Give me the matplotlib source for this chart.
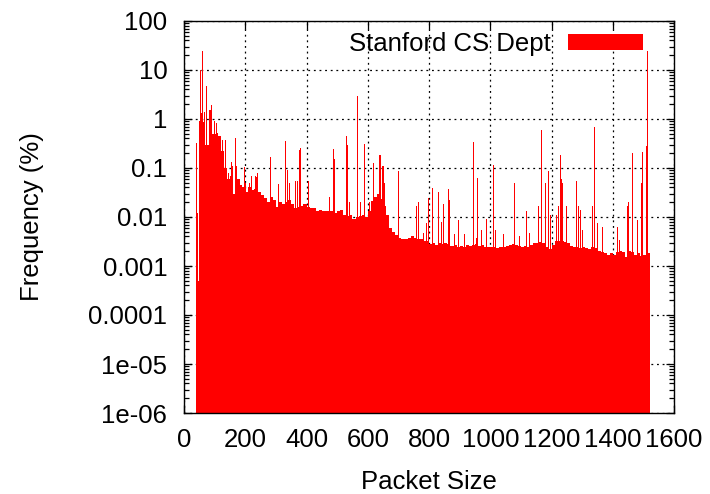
import numpy as np
import matplotlib
matplotlib.use("Agg")
import matplotlib.pyplot as plt
from matplotlib.ticker import FixedLocator, LogLocator, NullFormatter
from matplotlib.patches import Patch

plt.rcParams['font.family'] = ['Liberation Sans', 'DejaVu Sans']

# Packet-size histogram: background level in 10-byte bins (left edge, % of packets)
bin_left = np.arange(40, 1520, 10)
bin_freq = [
    0.0005, 0.9, 0.8, 0.29, 0.4, 0.5, 0.5, 0.45, 0.22, 0.1,          # 40-130
    0.06, 0.07, 0.03, 0.06, 0.045, 0.04, 0.033, 0.04, 0.035, 0.038,   # 140-230
    0.032, 0.028, 0.025, 0.02, 0.026, 0.022, 0.016, 0.02, 0.018, 0.02,   # 240-330
    0.022, 0.018, 0.015, 0.016, 0.017, 0.018, 0.016, 0.015, 0.015, 0.013,  # 340-430
    0.014, 0.013, 0.013, 0.013, 0.013, 0.012, 0.013, 0.014, 0.011, 0.0105,  # 440-530
    0.011, 0.009, 0.01, 0.0105, 0.011, 0.01, 0.013, 0.021, 0.026, 0.029,   # 540-630
    0.023, 0.017, 0.011, 0.006, 0.005, 0.0042, 0.0038, 0.0035, 0.0036, 0.0038,  # 640-730
    0.004, 0.0037, 0.0036, 0.0035, 0.0032, 0.0032, 0.0028, 0.003, 0.0027, 0.0029,  # 740-830
    0.0028, 0.0029, 0.0028, 0.0026, 0.0027, 0.0025, 0.0026, 0.0025, 0.0027, 0.0026,  # 840-930
    0.0027, 0.0028, 0.0026, 0.0027, 0.0025, 0.0024, 0.0024, 0.0025, 0.0023, 0.0024,  # 940-1030
    0.0024, 0.0026, 0.0027, 0.0028, 0.0027, 0.0026, 0.0025, 0.0026, 0.0025, 0.0027,  # 1040-1130
    0.0029, 0.003, 0.0031, 0.0029, 0.0024, 0.0022, 0.0027, 0.0032, 0.0033, 0.0032,  # 1140-1230
    0.0031, 0.0029, 0.0026, 0.0024, 0.0025, 0.0023, 0.0024, 0.0023, 0.0022, 0.0024,  # 1240-1330
    0.0023, 0.002, 0.0019, 0.0018, 0.0017, 0.0018, 0.0017, 0.0019, 0.002, 0.0019,  # 1340-1430
    0.0015, 0.002, 0.0019, 0.0017, 0.0018, 0.0016, 0.0017, 0.0018,                  # 1440-1510
]

# Individual packet sizes that stand out above the background
peak_size = [
    41, 44, 55, 57, 61, 65, 68, 75, 82, 86, 90, 101, 106, 111, 115, 118,
    127, 136, 145, 154, 159, 168, 172, 182, 197, 202, 213, 219, 224, 233,
    236, 241, 284, 307, 333, 338, 344, 365, 369, 376, 380, 405, 407, 474,
    487, 490, 531, 534, 542, 566, 575, 588, 591, 607, 618, 640, 643, 649,
    652, 655, 700, 759, 765, 781, 792, 799, 812, 832, 841, 846, 864, 868,
    884, 895, 917, 944, 955, 959, 971, 988, 1009, 1018, 1042, 1078, 1096,
    1118, 1129, 1159, 1167, 1181, 1191, 1196, 1216, 1224, 1230, 1233, 1236,
    1248, 1281, 1289, 1295, 1302, 1335, 1340, 1351, 1368, 1414, 1422, 1448,
    1451, 1463, 1482, 1495, 1498, 1509, 1514,
]
peak_freq = [
    0.32, 0.012, 10, 1.3, 24.6, 0.85, 1.4, 4.7, 1.5, 1.5, 1.9, 0.93, 0.83, 0.52, 0.43, 0.32,
    0.37, 0.37, 0.08, 0.13, 0.11, 0.4, 0.11, 0.06, 0.105, 0.05, 0.05, 0.07, 0.035, 0.068,
    0.067, 0.08, 0.17, 0.047, 0.35, 0.09, 0.05, 0.055, 0.054, 0.23, 0.26, 0.055, 0.052, 0.026,
    0.25, 0.15, 0.45, 0.3, 0.02, 2.95, 0.02, 0.3, 0.31, 0.02, 0.127, 0.18, 0.18, 0.11,
    0.11, 0.05, 0.085, 0.017, 0.02, 0.0047, 0.0075, 0.025, 0.039, 0.032, 0.008, 0.018, 0.037, 0.022,
    0.0044, 0.0087, 0.0044, 0.34, 0.0037, 0.062, 0.0054, 0.009, 0.115, 0.0055, 0.0044, 0.05, 0.004,
    0.013, 0.0047, 0.017, 0.6, 0.05, 0.087, 0.011, 0.011, 0.017, 0.18, 0.06, 0.05,
    0.017, 0.055, 0.017, 0.014, 0.0054, 0.017, 0.7, 0.0075, 0.0062, 0.0062, 0.0034, 0.017,
    0.02, 0.2, 0.0087, 0.05, 0.21, 0.28, 24.5,
]

y_ticks = [1e-6, 1e-5, 1e-4, 1e-3, 1e-2, 1e-1, 1, 10, 100]
y_labels = ["1e-06", "1e-05", "0.0001", "0.001", "0.01", "0.1", "1", "10", "100"]
x_ticks = [0, 200, 400, 600, 800, 1000, 1200, 1400, 1600]

RED = "#ff0000"
FLOOR = 1e-6
FS = 18.5

fig = plt.figure(figsize=(7.1, 4.94), dpi=100)
ax = fig.add_axes([184 / 710, 1 - 413 / 494, 490 / 710, 392 / 494])

ax.set_yscale("log")
ax.set_xlim(0, 1600)
ax.set_ylim(FLOOR, 100)

bf = np.asarray(bin_freq)
ax.bar(bin_left, bf - FLOOR, bottom=FLOOR, width=10, align="edge",
       color=RED, linewidth=0)
pf = np.asarray(peak_freq)
ax.bar(peak_size, pf - FLOOR, bottom=FLOOR, width=3.3, align="center",
       color=RED, linewidth=0)

ax.set_axisbelow(True)
ax.grid(True, which="major", color="black", linestyle=(0, (1.5, 3)), linewidth=0.9)

ax.set_xticks(x_ticks)
ax.set_xticklabels([str(v) for v in x_ticks])
ax.yaxis.set_major_locator(FixedLocator(y_ticks))
ax.set_yticklabels(y_labels)
ax.yaxis.set_minor_locator(LogLocator(base=10, subs=range(2, 10), numticks=100))
ax.yaxis.set_minor_formatter(NullFormatter())

ax.tick_params(which="both", direction="in", top=True, right=True, labelsize=FS,
               width=0.9, colors="black")
ax.tick_params(which="major", length=6)
ax.tick_params(which="minor", length=3.5)
ax.tick_params(axis="y", pad=12)
ax.tick_params(axis="x", pad=11)
for s in ax.spines.values():
    s.set_linewidth(1.0)

ax.set_xlabel("Packet Size", fontsize=FS, labelpad=13)
ax.set_ylabel("Frequency (%)", fontsize=FS, labelpad=32)

handle = Patch(facecolor=RED, edgecolor="none")
leg = ax.legend([handle], ["Stanford CS Dept"], loc="upper right",
                bbox_to_anchor=(643 / 710, 1 - 32 / 494), bbox_transform=fig.transFigure,
                frameon=False, markerfirst=False, fontsize=FS,
                handlelength=2.9, handleheight=0.6, handletextpad=0.7,
                borderpad=0, borderaxespad=0)

fig.savefig("out.png", dpi=100)
